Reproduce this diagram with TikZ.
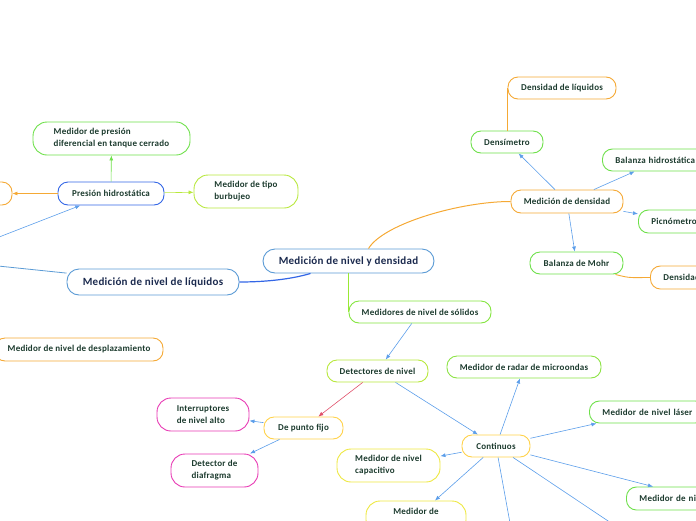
\documentclass[tikz,border=0pt]{standalone}
\usepackage{fontspec}
\setmainfont{Carlito}[LetterSpace=2.5]
\usetikzlibrary{arrows.meta, positioning, calc}
\definecolor{mapblue}{HTML}{5B9BD5}
\definecolor{mapdeep}{HTML}{3366E6}
\definecolor{mapgreen}{HTML}{6EE04A}
\definecolor{maplime}{HTML}{B8E83C}
\definecolor{mapyellow}{HTML}{EEE840}
\definecolor{mapgold}{HTML}{FFD24A}
\definecolor{maporange}{HTML}{F5A935}
\definecolor{mappink}{HTML}{E83AB4}
\definecolor{maparrowc}{HTML}{5C9EEA}
\definecolor{mapred}{HTML}{E0506A}
\definecolor{maptext}{HTML}{1C3B2E}
\definecolor{mapnavy}{HTML}{1B2A4E}
\tikzset{
  mapbox/.style={draw, rounded corners=10pt, line width=0.9pt, fill=white, align=left,
    inner sep=3pt, font=\fontsize{9}{12}\selectfont\bfseries, text=maptext},
  mainbox/.style={mapbox, draw=mapblue, rounded corners=12pt,
    font=\fontsize{11}{13}\selectfont\bfseries, text=mapnavy},
  twoline/.style={rounded corners=14pt},
  boxsize/.style 2 args={minimum width=#1, minimum height=#2},
  edgebox/.style={anchor=west, inner xsep=13pt, text width=#1},
  sblue/.style={draw=mapdeep},
  sgreen/.style={draw=mapgreen},
  slime/.style={draw=maplime},
  syellow/.style={draw=mapyellow},
  sgold/.style={draw=mapgold},
  sorange/.style={draw=maporange},
  spink/.style={draw=mappink},
  maparrow/.style={-{Latex[length=5pt,width=4pt]}, line width=0.6pt, draw=maparrowc},
  mapline/.style={line width=1pt},
}

\begin{document}
\begin{tikzpicture}[x=1pt, y=-1pt]
  \useasboundingbox (0,0) rectangle (696,520);
  \clip (0,0) rectangle (696,520);
  % main topics
  \node[mainbox, boxsize={171pt}{24pt}] (central) at (348.5,261) {Medición de nivel y densidad};
  \node[mainbox, boxsize={172pt}{26pt}] (liquidos) at (153,282) {Medición de nivel de líquidos};
  % liquid level
  \node[mapbox, sblue, boxsize={106pt}{23pt}] (presion) at (111,193.5) {Presión hidrostática};
  \node[mapbox, sgreen, twoline, boxsize={157pt}{33pt}] (difpres) at (111.5,138.5) {Medidor de presión\\diferencial en tanque cerrado};
  \node[mapbox, slime, twoline, boxsize={104pt}{33pt}] (burbujeo) at (246,191.5) {Medidor de tipo\\burbujeo};
  \node[mapbox, sorange, boxsize={84pt}{23pt}] (ladoizq) at (-30,193.5) {};
  \node[mapbox, sorange, boxsize={168pt}{23pt}] (desplaz) at (79,349.5) {Medidor de nivel de desplazamiento};
  \coordinate (ocultoizq) at (-60,260);
  % density
  \node[mapbox, sorange, boxsize={112pt}{23pt}] (medden) at (567,201.5) {Medición de densidad};
  \node[mapbox, sgreen, boxsize={72pt}{22pt}] (densim) at (507,142) {Densímetro};
  \node[mapbox, sorange, boxsize={108pt}{22pt}] (densliq) at (562,88) {Densidad de líquidos};
  \node[mapbox, sgreen, edgebox=90pt, minimum height=22pt] (balhid) at (602,160) {Balanza hidrostática};
  \node[mapbox, sgreen, edgebox=60pt, minimum height=23pt] (picno) at (638,221.5) {Picnómetro};
  \node[mapbox, sgreen, boxsize={93pt}{22pt}] (mohr) at (576.5,263) {Balanza de Mohr};
  \node[mapbox, sorange, edgebox=90pt, minimum height=23pt] (densdos) at (650,277.5) {Densidad};
  % solid level
  \node[mapbox, draw=mapgreen!85!yellow, boxsize={142pt}{22pt}] (solidos) at (420,312) {Medidores de nivel de sólidos};
  \node[mapbox, slime, boxsize={101pt}{22pt}] (detect) at (377.5,371) {Detectores de nivel};
  \node[mapbox, sgold, boxsize={79pt}{22pt}] (fijo) at (303.5,428) {De punto fijo};
  \node[mapbox, spink, twoline, boxsize={92pt}{33pt}] (interr) at (203,414.5) {Interruptores\\de nivel alto};
  \node[mapbox, spink, twoline, boxsize={87pt}{33pt}] (diafr) at (214.5,470.5) {Detector de\\diafragma};
  \node[mapbox, sgold, boxsize={68pt}{22pt}] (contin) at (496,446) {Continuos};
  \node[mapbox, draw=mapgreen!60!maplime, boxsize={154pt}{22pt}] (radar) at (524,367) {Medidor de radar de microondas};
  \node[mapbox, sgreen, edgebox=90pt, minimum height=22pt] (laser) at (589,412) {Medidor de nivel láser};
  \node[mapbox, syellow, twoline, boxsize={103pt}{33pt}] (capac) at (388.5,465.5) {Medidor de nivel\\capacitivo};
  \node[mapbox, syellow, twoline, boxsize={100pt}{33pt}] (medbajo) at (416,517.5) {Medidor de\\\phantom{x}};
  \node[mapbox, sgreen, edgebox=90pt, minimum height=23pt] (mednivel) at (626,498.5) {Medidor de nivel};
  \coordinate (bajoa) at (514,545);
  \coordinate (bajob) at (644,545);
  % branches
  \draw[mapline, draw=mapdeep, line width=1.2pt] ([xshift=-38pt]central.south) .. controls +(-20,6) and +(25,0) .. (liquidos.east);
  \draw[mapline, draw=maporange] ([xshift=20pt]central.north) .. controls +(15,-25) and +(-50,0) .. (medden.west);
  \draw[mapline, draw=mapgreen!70!yellow] (central.south) -- (central.south |- solidos.west);
  \draw[mapline, draw=mapblue, line width=0.8pt] (liquidos) -- (ocultoizq);
  \draw[maparrow] (ocultoizq) -- (presion);
  \draw[maparrow, draw=mapgreen] (presion) -- (difpres);
  \draw[maparrow, draw=maplime] (presion) -- (burbujeo);
  \draw[maparrow, draw=maporange] (presion) -- (ladoizq);
  \draw[maparrow] (medden) -- (densim);
  \draw[maparrow] (medden) -- (balhid);
  \draw[maparrow] (medden) -- (picno);
  \draw[maparrow] (medden) -- (mohr);
  \draw[mapline, draw=maporange, line width=0.9pt] (densim.north) -- (densim.north |- densliq.west);
  \draw[mapline, draw=maporange, line width=0.9pt] ([xshift=-8pt]mohr.south east) .. controls +(15,4) and +(-20,0) .. (densdos.west);
  \draw[maparrow] (solidos) -- (detect);
  \draw[maparrow, draw=mapred] (detect) -- (fijo);
  \draw[maparrow] (detect) -- (contin);
  \draw[maparrow] (fijo) -- (interr);
  \draw[maparrow] (fijo) -- (diafr);
  \draw[maparrow] (contin) -- (radar);
  \draw[maparrow] (contin) -- (laser);
  \draw[maparrow] (contin) -- (capac);
  \draw[maparrow] (contin) -- (medbajo);
  \draw[maparrow] (contin) -- ([xshift=27pt]mednivel.north west);
  \draw[maparrow] (contin) -- (bajoa);
  \draw[maparrow] (contin) -- (bajob);
\end{tikzpicture}
\end{document}
